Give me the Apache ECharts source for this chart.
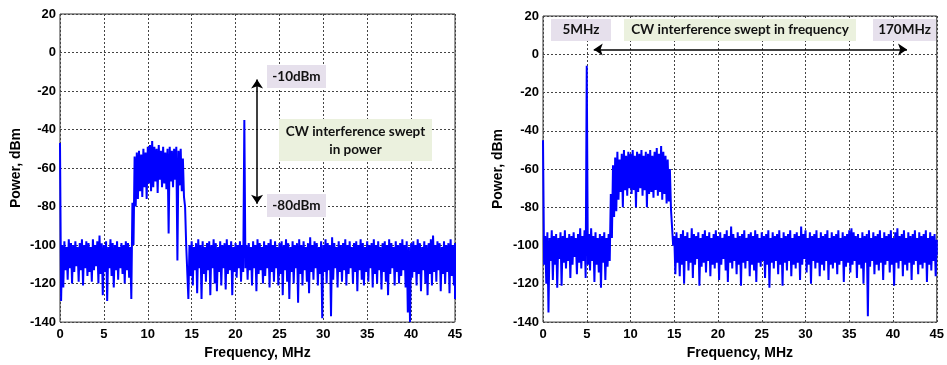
<!DOCTYPE html>
<html>
<head>
<meta charset="utf-8">
<script src="https://cdn.jsdelivr.net/npm/echarts@6/dist/echarts.min.js"></script>
<style>html,body{margin:0;padding:0;background:#fff;}#c{width:947px;height:365px;}</style>
</head>
<body>
<div id="c"></div>
<script>
// Frequency sampling of the read-off spectra (MHz)
const freqStep = 0.25;
const xTicks = [0, 5, 10, 15, 20, 25, 30, 35, 40, 45];
const yTicks = [-140, -120, -100, -80, -60, -40, -20, 0, 20];

// Left panel: CW interference swept in power — upper / lower envelope per 0.25 MHz (dBm)
const leftHi = [
  -47,-100,-98,-101,-97,-99,-100,-98,-101,-99,-97,-100,-98,-99,-101,-97,-100,-98,-95,-99,
  -100,-98,-101,-97,-99,-100,-98,-101,-99,-100,-98,-99,-101,-78,-54,-52,-51,-53,-50,-52,
  -49,-48,-46,-49,-50,-48,-51,-49,-52,-50,-49,-51,-50,-49,-51,-50,-55,-80,-99,-100,
  -98,-101,-99,-97,-100,-98,-101,-99,-98,-100,-97,-99,-101,-98,-100,-99,-97,-100,-98,-101,
  -99,-100,-98,-100,-35,-100,-99,-101,-98,-100,-97,-99,-101,-98,-100,-99,-97,-100,-98,-101,
  -99,-98,-100,-97,-99,-101,-98,-100,-99,-97,-100,-98,-101,-99,-96,-100,-98,-99,-101,-98,
  -100,-97,-99,-100,-96,-99,-101,-98,-100,-99,-97,-100,-98,-101,-99,-98,-100,-97,-99,-101,
  -98,-100,-99,-97,-100,-98,-101,-99,-98,-100,-97,-99,-101,-98,-100,-99,-97,-100,-98,-101,
  -99,-98,-100,-97,-99,-101,-98,-100,-99,-97,-95,-100,-98,-99,-101,-98,-100,-99,-97,-100,
  -99
];
const leftLo = [
  -129,-122,-113,-118,-112,-120,-114,-111,-119,-113,-121,-112,-116,-114,-119,-113,-111,-120,-115,-126,
  -114,-129,-112,-116,-122,-113,-118,-112,-115,-120,-113,-117,-128,-100,-80,-76,-72,-75,-70,-76,
  -68,-72,-70,-67,-73,-66,-70,-68,-71,-94,-67,-70,-66,-108,-69,-72,-75,-100,-128,-116,
  -121,-113,-125,-112,-128,-115,-119,-113,-126,-112,-120,-124,-114,-121,-112,-123,-115,-113,-126,-114,
  -117,-112,-119,-114,-112,-118,-113,-121,-112,-124,-115,-113,-120,-116,-112,-122,-114,-119,-112,-121,
  -115,-126,-113,-119,-128,-114,-120,-112,-130,-115,-121,-113,-119,-125,-114,-118,-112,-121,-115,-138,
  -114,-120,-113,-137,-118,-112,-122,-114,-119,-113,-121,-115,-112,-120,-114,-124,-113,-118,-121,-114,
  -119,-112,-122,-115,-120,-113,-123,-114,-119,-126,-115,-112,-121,-114,-120,-116,-113,-122,-135,-140,
  -117,-114,-121,-115,-124,-113,-120,-126,-115,-121,-114,-119,-113,-124,-115,-120,-114,-125,-116,-121,
  -128
];

// Right panel: CW interference swept in frequency — upper / lower envelope per 0.25 MHz (dBm)
const rightHi = [
  -45,-95,-93,-96,-92,-95,-94,-96,-93,-95,-92,-96,-94,-95,-93,-96,-94,-91,-95,-92,
  -6,-94,-91,-95,-93,-96,-94,-95,-93,-96,-94,-73,-58,-54,-51,-55,-52,-50,-53,-51,
  -52,-50,-53,-51,-52,-50,-53,-51,-52,-50,-53,-51,-49,-52,-48,-51,-53,-55,-60,-80,
  -95,-93,-96,-94,-92,-95,-93,-96,-91,-94,-95,-93,-96,-94,-92,-95,-93,-96,-94,-92,
  -95,-93,-96,-94,-92,-95,-90,-94,-96,-93,-95,-94,-92,-96,-94,-93,-95,-92,-94,-96,
  -93,-95,-94,-92,-96,-93,-95,-94,-92,-96,-93,-95,-94,-92,-96,-94,-93,-95,-90,-94,
  -92,-96,-93,-95,-94,-92,-96,-93,-95,-94,-92,-96,-93,-95,-94,-92,-96,-93,-95,-94,
  -92,-91,-93,-95,-94,-96,-93,-95,-94,-92,-96,-93,-95,-94,-92,-96,-93,-95,-94,-92,
  -96,-93,-91,-95,-94,-92,-96,-93,-95,-94,-92,-96,-93,-95,-94,-92,-96,-93,-95,-94,
  -97
];
const rightLo = [
  -110,-120,-135,-108,-118,-110,-122,-107,-121,-109,-112,-108,-117,-110,-106,-115,-109,-112,-108,-117,
  -110,-113,-108,-119,-110,-114,-122,-109,-118,-111,-108,-96,-85,-82,-76,-72,-80,-71,-74,-70,
  -73,-71,-80,-72,-70,-74,-71,-80,-73,-72,-75,-71,-74,-72,-76,-73,-78,-77,-81,-100,
  -115,-109,-116,-110,-120,-108,-113,-109,-117,-110,-107,-121,-111,-109,-114,-108,-116,-110,-112,-109,
  -118,-110,-107,-113,-119,-109,-112,-108,-115,-110,-121,-109,-112,-108,-116,-110,-113,-119,-109,-111,
  -108,-117,-110,-122,-109,-112,-108,-115,-110,-121,-109,-113,-108,-116,-110,-112,-109,-118,-110,-107,
  -114,-110,-120,-108,-112,-109,-116,-110,-113,-108,-118,-110,-112,-109,-115,-110,-108,-119,-111,-109,
  -114,-110,-108,-117,-110,-112,-120,-109,-137,-111,-108,-115,-110,-113,-109,-118,-110,-108,-114,-110,
  -121,-109,-112,-108,-116,-110,-113,-109,-118,-110,-108,-115,-110,-112,-109,-119,-110,-113,-108,-116,
  -105
];

// Annotation arrow end points (data coordinates)
const powerArrow = [[22.45, -14.0], [22.45, -78.5]];
const freqArrow = [[5.8, 2.5], [41.6, 2.5]];

function zigzag(hi, lo) {
  const pts = [];
  const n = Math.min(hi.length, lo.length);
  for (let i = 0; i < n; i++) {
    const f = i * freqStep;
    pts.push([f, hi[i]]);
    pts.push([Math.min(f + freqStep / 2, 45), lo[i]]);
  }
  return pts;
}

const FONT = '"Liberation Sans", Arial, sans-serif';
const ANN = 'Lato, "Open Sans", sans-serif';

function xAx(idx) {
  return {
    type: 'value', gridIndex: idx, min: 0, max: 45, interval: 5,
    name: 'Frequency, MHz', nameLocation: 'middle', nameGap: 20,
    nameTextStyle: { color: '#000', fontWeight: 'bold', fontSize: 14, fontFamily: FONT },
    axisLine: { show: false }, axisTick: { show: false },
    axisLabel: { color: '#000', fontWeight: 'bold', fontSize: 13, fontFamily: FONT, margin: 6,
      formatter: v => xTicks.includes(v) ? String(v) : '' },
    splitLine: { show: true, lineStyle: { color: '#444', width: 1, type: [2, 2] } }
  };
}
function yAx(idx) {
  return {
    type: 'value', gridIndex: idx, min: -140, max: 20, interval: 20,
    name: 'Power, dBm', nameLocation: 'middle', nameGap: 37, nameRotate: 90,
    nameTextStyle: { color: '#000', fontWeight: 'bold', fontSize: 14, fontFamily: FONT },
    axisLine: { show: false }, axisTick: { show: false },
    axisLabel: { color: '#000', fontWeight: 'bold', fontSize: 13, fontFamily: FONT, margin: 4,
      formatter: v => yTicks.includes(v) ? String(v) : '' },
    splitLine: { show: true, lineStyle: { color: '#444', width: 1, type: [2, 2] } }
  };
}

function arrowMark(pts) {
  return {
    silent: true, symbol: ['arrow', 'arrow'], symbolSize: 9,
    lineStyle: { color: '#000', width: 1.5, type: 'solid' },
    label: { show: false }, emphasis: { disabled: true },
    data: [[{ coord: pts[0] }, { coord: pts[1] }]]
  };
}

function box(x, y, w, h, fill) {
  return { type: 'rect', shape: { x: x, y: y, width: w, height: h }, style: { fill: fill }, z: 100 };
}
function label(x, y, text) {
  return { type: 'text', x: x, y: y, z: 101,
    style: { text: text, fill: '#111', font: 'bold 13.5px ' + ANN, align: 'center', verticalAlign: 'middle' } };
}

const PURPLE = '#e6e0ec';
const GREEN = '#ebf1de';

const chart = echarts.init(document.getElementById('c'), null, { renderer: 'canvas' });
chart.setOption({
  animation: false,
  backgroundColor: '#fff',
  grid: [
    { left: 60, top: 14, width: 395, height: 311, show: true, borderColor: '#333', borderWidth: 1, backgroundColor: 'transparent' },
    { left: 543, top: 16, width: 396, height: 311, show: true, borderColor: '#333', borderWidth: 1, backgroundColor: 'transparent' }
  ],
  xAxis: [xAx(0), xAx(1)],
  yAxis: [yAx(0), Object.assign(yAx(1), { nameGap: 38 })],
  series: [
    { type: 'line', xAxisIndex: 0, yAxisIndex: 0, data: zigzag(leftHi, leftLo), symbol: 'none',
      lineStyle: { color: '#0000ff', width: 2 }, silent: true, markLine: arrowMark(powerArrow) },
    { type: 'line', xAxisIndex: 1, yAxisIndex: 1, data: zigzag(rightHi, rightLo), symbol: 'none',
      lineStyle: { color: '#0000ff', width: 2 }, silent: true, markLine: arrowMark(freqArrow) }
  ],
  graphic: [
    box(267, 65, 59, 23, PURPLE), label(296.5, 77, '-10dBm'),
    box(267, 194, 59, 23, PURPLE), label(296.5, 205.5, '-80dBm'),
    box(279, 119, 153, 42, GREEN), label(355.5, 132, 'CW interference swept'), label(355.5, 150, 'in power'),
    box(551, 19, 60, 22, PURPLE), label(581, 30, '5MHz'),
    box(624, 19, 232, 22, GREEN), label(740, 30, 'CW interference swept in frequency'),
    box(873, 19, 63, 22, PURPLE), label(904.5, 30, '170MHz')
  ]
});
</script>
</body>
</html>
